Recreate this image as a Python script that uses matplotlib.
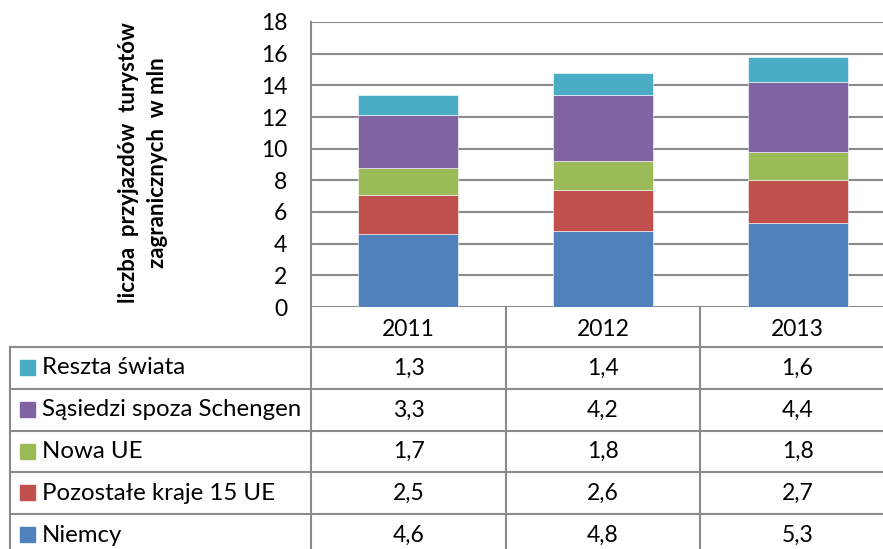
import matplotlib
matplotlib.use("Agg")
import matplotlib.pyplot as plt
from matplotlib.patches import Rectangle

plt.rcParams['font.family'] = ['Lato', 'DejaVu Sans']

years = ["2011", "2012", "2013"]
series_names = ["Niemcy", "Pozostałe kraje 15 UE", "Nowa UE",
                "Sąsiedzi spoza Schengen", "Reszta świata"]
niemcy = [4.6, 4.8, 5.3]
pozostale = [2.5, 2.6, 2.7]
nowa_ue = [1.7, 1.8, 1.8]
sasiedzi = [3.3, 4.2, 4.4]
reszta = [1.3, 1.4, 1.6]
series_values = [niemcy, pozostale, nowa_ue, sasiedzi, reszta]
colors = ["#4F81BD", "#C0504D", "#9BBB59", "#8064A2", "#4BACC6"]
yticks = [0, 2, 4, 6, 8, 10, 12, 14, 16, 18]
ylabel = "liczba  przyjazdów  turystów\nzagranicznych  w mln"

W, H = 883, 549
fig = plt.figure(figsize=(W / 100, H / 100), dpi=100)
fig.patch.set_facecolor("white")

grid_c = "#8A8A8A"
# main axes in pixel layout
x0, x1 = 311, 895
y0, y1 = 307, 22
ax = fig.add_axes([x0 / W, 1 - y0 / H, (x1 - x0) / W, (y0 - y1) / H])
xs = list(range(len(years)))
bottom = [0.0] * len(years)
for vals, c in zip(series_values, colors):
    ax.bar(xs, vals, width=0.514, bottom=bottom, color=c, zorder=3,
           edgecolor="white", linewidth=0.4)
    bottom = [b + v for b, v in zip(bottom, vals)]
ax.set_xlim(-0.5, len(years) - 0.5)
ax.set_ylim(0, 18)
ax.set_yticks(yticks)
ax.set_yticklabels([str(t) for t in yticks], fontsize=16.5)
ax.set_xticks([])
ax.yaxis.grid(True, color=grid_c, linewidth=1.5, zorder=0)
for s in ["top", "right", "bottom"]:
    ax.spines[s].set_visible(False)
ax.spines["left"].set_color(grid_c)
ax.spines["left"].set_linewidth(1.5)
ax.tick_params(axis="y", length=0, pad=17, colors="black")

fig.text(143 / W, 1 - 163 / H, ylabel, rotation=90, ha="center", va="center",
         fontsize=16, fontweight="bold", linespacing=1.45)

# table overlay
tax = fig.add_axes([0, 0, 1, 1], facecolor="none")
tax.set_xlim(0, W)
tax.set_ylim(H, 0)
tax.axis("off")
lw = 1.5
row_edges = [347, 389, 431, 472, 514, 556]
col_edges = [311, 506, 700, 895]
for y in row_edges:
    tax.plot([10, W + 20], [y, y], color=grid_c, lw=lw, clip_on=False)
tax.plot([10, 10], [347, 560], color=grid_c, lw=lw)
for x in col_edges:
    tax.plot([x, x], [307, 560], color=grid_c, lw=lw)

centers_x = [(col_edges[i] + col_edges[i + 1]) / 2 for i in range(3)]
for cx, yr in zip(centers_x, years):
    tax.text(cx, 329, yr, ha="center", va="center", fontsize=16.5)

order = [4, 3, 2, 1, 0]
for r, si in enumerate(order):
    cy = (row_edges[r] + row_edges[r + 1]) / 2
    tax.add_patch(Rectangle((20, cy - 8), 15, 15, color=colors[si]))
    tax.text(42, cy, series_names[si], ha="left", va="center", fontsize=17.3)
    for cx, v in zip(centers_x, series_values[si]):
        tax.text(cx, cy, f"{v:.1f}".replace(".", ","), ha="center",
                 va="center", fontsize=16.5)

fig.savefig("out.png", dpi=100, facecolor="white")
